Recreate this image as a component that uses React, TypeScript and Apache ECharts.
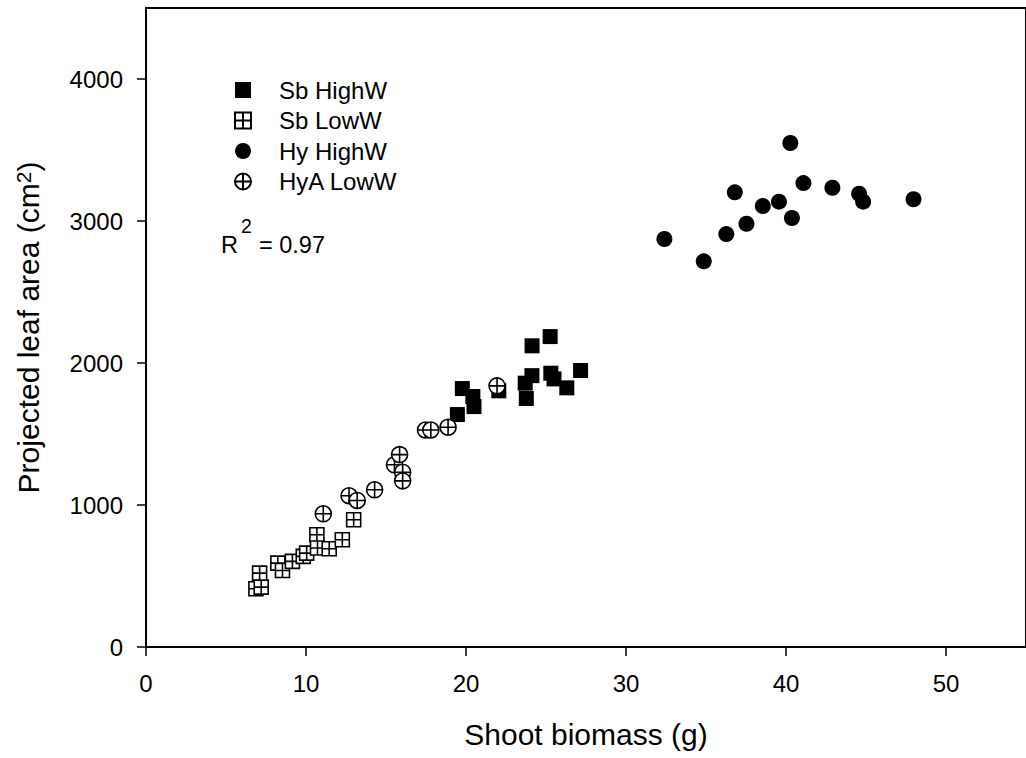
import React, { useEffect, useRef } from "react";
import * as echarts from "echarts";

const sbHighX = [19.46, 19.77, 20.43, 20.5, 22.05, 23.7, 23.77, 24.13, 24.12, 25.26, 25.3, 25.5, 26.3, 27.16];
const sbHighY = [1637, 1820, 1764, 1693, 1804, 1858, 1750, 2121, 1911, 2186, 1928, 1888, 1825, 1947];

const sbLowX = [6.87, 7.2, 7.1, 8.24, 8.53, 9.15, 9.83, 10.04, 10.68, 10.72, 11.45, 12.27, 12.98];
const sbLowY = [410, 422, 520, 591, 539, 603, 638, 661, 790, 697, 692, 755, 896];

const hyHighX = [32.4, 34.86, 36.27, 36.8, 37.53, 38.55, 39.56, 40.27, 40.37, 41.09, 42.9, 44.57, 44.82, 47.97];
const hyHighY = [2873, 2716, 2908, 3202, 2981, 3105, 3136, 3549, 3021, 3267, 3234, 3192, 3136, 3153];

const hyaLowX = [11.08, 12.69, 13.2, 14.29, 15.53, 15.85, 16.04, 16.04, 17.47, 17.8, 18.88, 21.94];
const hyaLowY = [938, 1065, 1032, 1107, 1283, 1355, 1231, 1170, 1528, 1528, 1548, 1839];

const xTicks = [0, 10, 20, 30, 40, 50];
const yTicks = [0, 1000, 2000, 3000, 4000];
const seriesNames = ["Sb HighW", "Sb LowW", "Hy HighW", "HyA LowW"];

const FONT = "Liberation Sans, Arial, sans-serif";
const CROSS_SQUARE = "path://M0 0H10V10H0Z M5 0V10 M0 5H10";
const CROSS_CIRCLE = "path://M10 5A5 5 0 1 1 0 5A5 5 0 1 1 10 5Z M5 0V10 M0 5H10";

const zip = (xs: number[], ys: number[]) => xs.map((x, i) => [x, ys[i]]);

export default function App() {
  const ref = useRef<HTMLDivElement>(null);
  useEffect(() => {
    if (!ref.current) return;
    const chart = echarts.init(ref.current, undefined, { renderer: "svg" });
    chart.setOption({
      animation: false,
      backgroundColor: "#fff",
      grid: {
        left: 146,
        top: 8,
        right: -6,
        bottom: 111,
        show: true,
        borderColor: "#000",
        borderWidth: 2,
        containLabel: false,
      },
      legend: {
        orient: "vertical",
        left: 229,
        top: 73,
        itemWidth: 16,
        itemHeight: 16,
        itemGap: 6.5,
        data: seriesNames,
        textStyle: { fontSize: 24, fontFamily: FONT, color: "#000", padding: [0, 0, 0, 23] },
      },
      xAxis: {
        type: "value",
        min: 0,
        max: 55,
        interval: 10,
        name: "Shoot biomass (g)",
        nameLocation: "middle",
        nameGap: 72,
        nameTextStyle: { fontSize: 30, fontFamily: FONT, color: "#000" },
        axisLine: { show: true, lineStyle: { color: "#000", width: 2 } },
        axisTick: { show: true, inside: false, length: 9, lineStyle: { color: "#000", width: 1.5 }, customValues: xTicks },
        axisLabel: {
          fontSize: 24,
          fontFamily: FONT,
          color: "#000",
          margin: 24,
          customValues: xTicks,
          formatter: (v: number) => String(v),
        },
        splitLine: { show: false },
      },
      yAxis: {
        type: "value",
        min: 0,
        max: 4500,
        interval: 1000,
        name: "{a|Projected leaf area (cm}{s|2}{a|)}",
        nameLocation: "middle",
        nameGap: 103,
        nameRotate: 90,
        nameTextStyle: {
          fontSize: 30,
          fontFamily: FONT,
          color: "#000",
          rich: {
            a: { fontSize: 30, fontFamily: FONT, color: "#000" },
            s: { fontSize: 21, fontFamily: FONT, color: "#000", verticalAlign: "top" },
          },
        },
        axisLine: { show: true, lineStyle: { color: "#000", width: 2 } },
        axisTick: { show: true, inside: false, length: 9, lineStyle: { color: "#000", width: 1.5 }, customValues: yTicks },
        axisLabel: {
          fontSize: 24,
          fontFamily: FONT,
          color: "#000",
          margin: 23,
          customValues: yTicks,
          formatter: (v: number) => String(v),
        },
        splitLine: { show: false },
      },
      series: [
        {
          name: seriesNames[0],
          type: "scatter",
          symbol: "rect",
          symbolSize: 15,
          itemStyle: { color: "#000", opacity: 1 },
          data: zip(sbHighX, sbHighY),
        },
        {
          name: seriesNames[1],
          type: "scatter",
          symbol: CROSS_SQUARE,
          symbolSize: 14,
          itemStyle: { color: "#fff", borderColor: "#000", borderWidth: 1.6, opacity: 1 },
          data: zip(sbLowX, sbLowY),
        },
        {
          name: seriesNames[2],
          type: "scatter",
          symbol: "circle",
          symbolSize: 16,
          itemStyle: { color: "#000", opacity: 1 },
          data: zip(hyHighX, hyHighY),
        },
        {
          name: seriesNames[3],
          type: "scatter",
          symbol: CROSS_CIRCLE,
          symbolSize: 16,
          itemStyle: { color: "#fff", borderColor: "#000", borderWidth: 1.6, opacity: 1 },
          data: zip(hyaLowX, hyaLowY),
        },
      ],
      graphic: [
        {
          type: "text",
          x: 221,
          y: 245.3,
          style: { text: "R", font: `23.5px ${FONT}`, fill: "#000", verticalAlign: "middle", align: "left" },
          silent: true,
        },
        {
          type: "text",
          x: 241,
          y: 226.2,
          style: { text: "2", font: `19.5px ${FONT}`, fill: "#000", verticalAlign: "middle", align: "left" },
          silent: true,
        },
        {
          type: "text",
          x: 259,
          y: 245.3,
          style: { text: "= 0.97", font: `23.5px ${FONT}`, fill: "#000", verticalAlign: "middle", align: "left" },
          silent: true,
        },
      ],
    });
    return () => chart.dispose();
  }, []);
  return <div ref={ref} style={{ position: "absolute", left: 0, top: 0, width: 1026, height: 758 }} />;
}
